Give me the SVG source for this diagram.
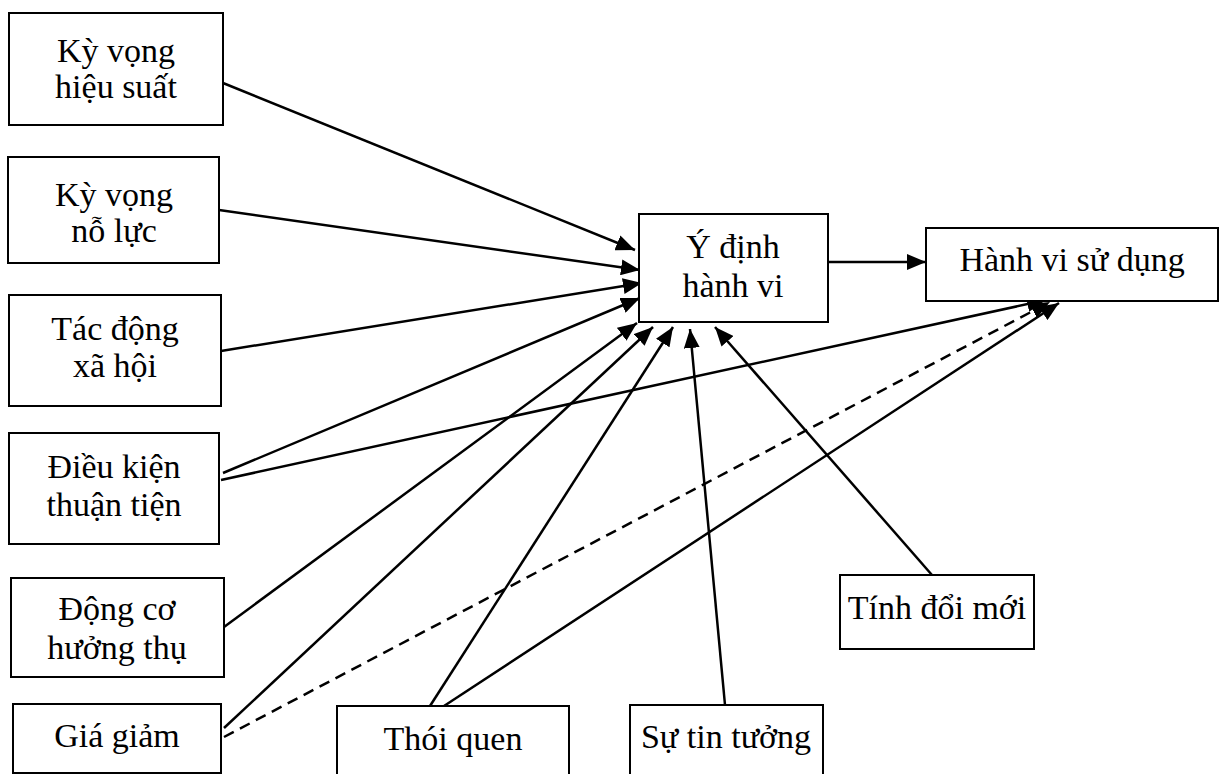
<svg xmlns="http://www.w3.org/2000/svg" width="1222" height="774" viewBox="0 0 1222 774">
  <style>
    .box { fill: #ffffff; stroke: #000000; stroke-width: 2; }
    .lbl { font-family: "Liberation Serif", "Times New Roman", serif; font-size: 34px; fill: #000000; text-anchor: middle; }
    .edge { stroke: #000000; stroke-width: 2.5; fill: none; marker-end: url(#head); }
    .dash { stroke-dasharray: 11 7; }
  </style>
  <defs>
    <marker id="head" markerUnits="userSpaceOnUse" markerWidth="20" markerHeight="16" refX="19" refY="8" orient="auto">
      <path d="M0,0 L19,8 L0,16 z" fill="#000000"/>
    </marker>
  </defs>
  <rect width="1222" height="774" fill="#ffffff"/>

  <!-- connectors -->
  <g id="connectors">
    <line class="edge" x1="223" y1="83" x2="635" y2="250"/>
    <line class="edge" x1="219" y1="210" x2="640" y2="270"/>
    <line class="edge" x1="221" y1="351" x2="642" y2="283"/>
    <line class="edge" x1="223" y1="473" x2="640" y2="298"/>
    <line class="edge" x1="221" y1="480" x2="1046" y2="300"/>
    <line class="edge" x1="224" y1="627" x2="637" y2="323"/>
    <line class="edge" x1="224" y1="728" x2="653" y2="327"/>
    <line class="edge dash" x1="224" y1="737" x2="1050" y2="302"/>
    <line class="edge" x1="430" y1="706" x2="673" y2="327"/>
    <line class="edge" x1="444" y1="706" x2="1059" y2="303"/>
    <line class="edge" x1="725" y1="705" x2="690" y2="329"/>
    <line class="edge" x1="932" y1="575" x2="715" y2="327"/>
    <line class="edge" x1="828" y1="262" x2="926" y2="262"/>
  </g>

  <g id="ky-vong-hieu-suat">
    <rect class="box" x="9" y="13" width="214" height="112"/>
    <text class="lbl" x="116" y="62">Kỳ vọng</text>
    <text class="lbl" x="116" y="98">hiệu suất</text>
  </g>
  <g id="ky-vong-no-luc">
    <rect class="box" x="8" y="157" width="211" height="106"/>
    <text class="lbl" x="114" y="206">Kỳ vọng</text>
    <text class="lbl" x="114" y="242">nỗ lực</text>
  </g>
  <g id="tac-dong-xa-hoi">
    <rect class="box" x="9" y="295" width="212" height="111"/>
    <text class="lbl" x="115" y="340">Tác động</text>
    <text class="lbl" x="115" y="377">xã hội</text>
  </g>
  <g id="dieu-kien-thuan-tien">
    <rect class="box" x="9" y="433" width="210" height="111"/>
    <text class="lbl" x="114" y="478">Điều kiện</text>
    <text class="lbl" x="114" y="516">thuận tiện</text>
  </g>
  <g id="dong-co-huong-thu">
    <rect class="box" x="11" y="578" width="213" height="99"/>
    <text class="lbl" x="117" y="620">Động cơ</text>
    <text class="lbl" x="117" y="659">hưởng thụ</text>
  </g>
  <g id="gia-giam">
    <rect class="box" x="13" y="704" width="208" height="69"/>
    <text class="lbl" x="117" y="747">Giá giảm</text>
  </g>
  <g id="thoi-quen">
    <rect class="box" x="337" y="706" width="232" height="72"/>
    <text class="lbl" x="453" y="750">Thói quen</text>
  </g>
  <g id="su-tin-tuong">
    <rect class="box" x="630" y="705" width="193" height="73"/>
    <text class="lbl" x="726" y="748">Sự tin tưởng</text>
  </g>
  <g id="tinh-doi-moi">
    <rect class="box" x="840" y="575" width="194" height="74"/>
    <text class="lbl" x="937" y="619">Tính đổi mới</text>
  </g>
  <g id="y-dinh-hanh-vi">
    <rect class="box" x="639" y="214" width="189" height="108"/>
    <text class="lbl" x="733" y="258">Ý định</text>
    <text class="lbl" x="733" y="297">hành vi</text>
  </g>
  <g id="hanh-vi-su-dung">
    <rect class="box" x="926" y="228" width="292" height="73"/>
    <text class="lbl" x="1072" y="271">Hành vi sử dụng</text>
  </g>
</svg>
